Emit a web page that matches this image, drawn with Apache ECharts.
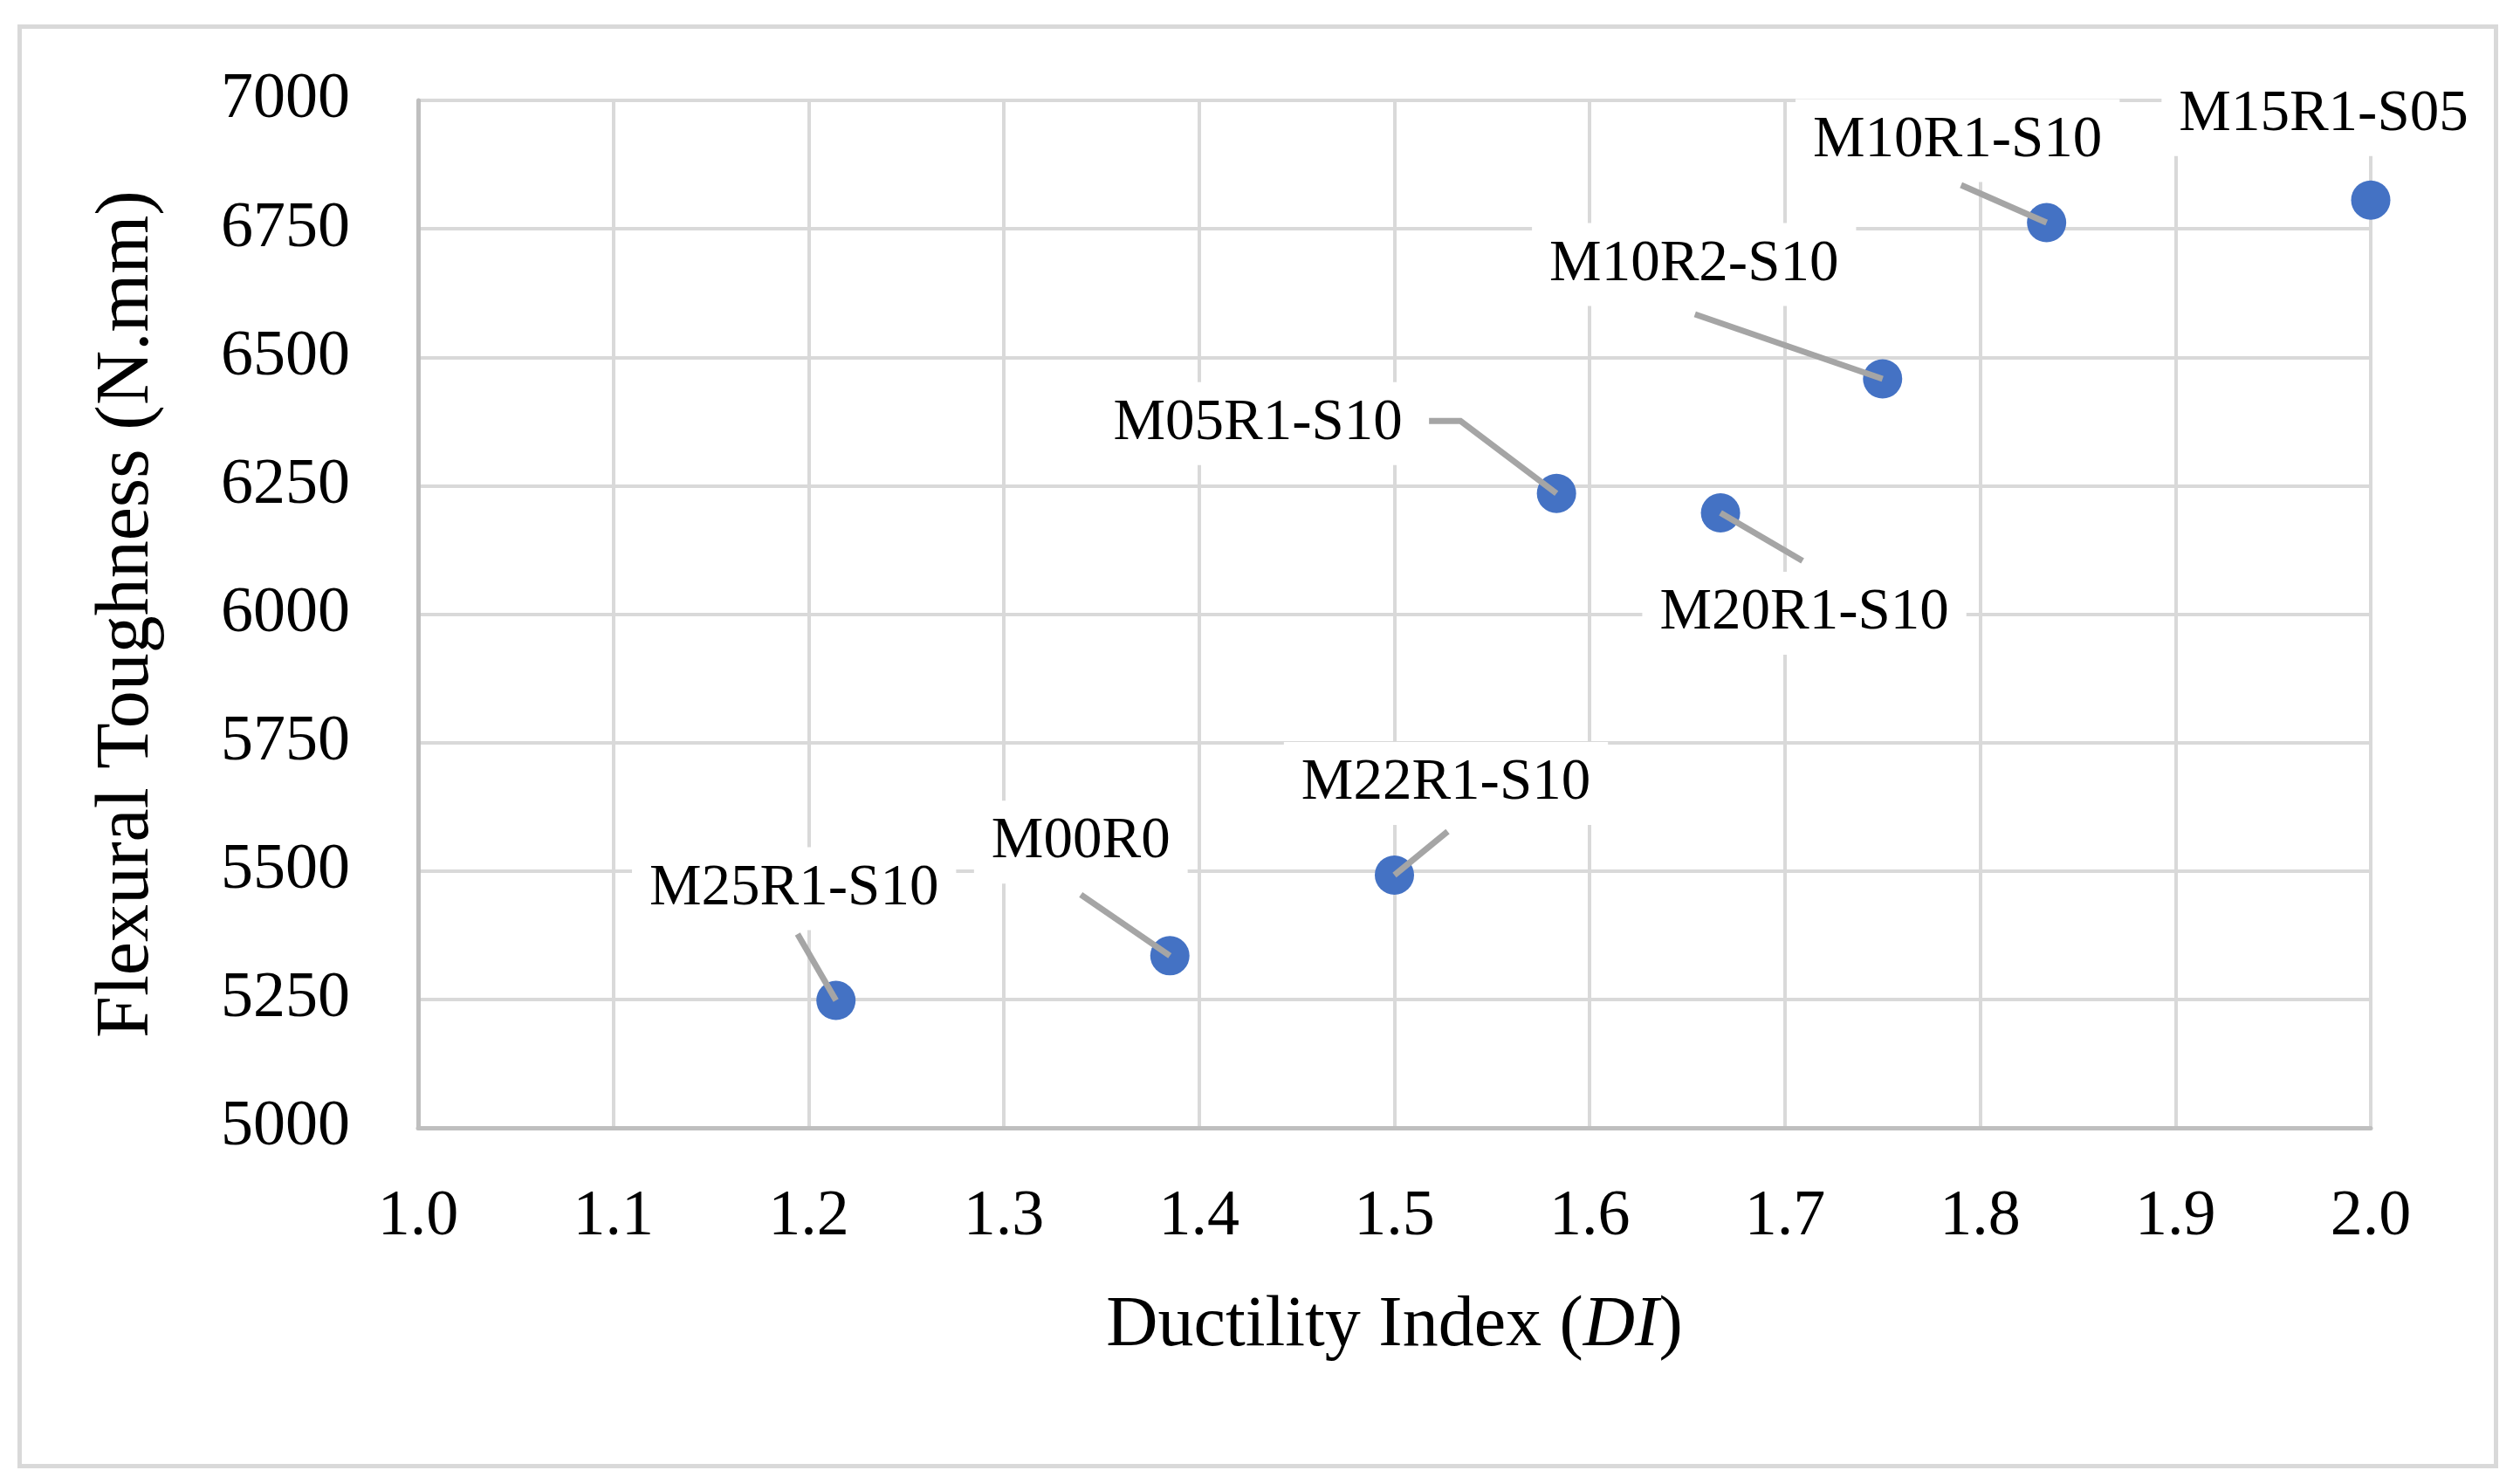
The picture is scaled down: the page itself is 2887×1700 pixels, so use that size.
<!DOCTYPE html>
<html>
<head>
<meta charset="utf-8">
<script src="https://cdn.jsdelivr.net/npm/echarts@6/dist/echarts.min.js"></script>
<style>
html,body{margin:0;padding:0;background:#fff;}
#chart{width:2887px;height:1700px;}
</style>
</head>
<body>
<div id="chart"></div>
<script>
// ---- data ----
const specimens = ['M25R1-S10','M00R0','M22R1-S10','M05R1-S10','M20R1-S10','M10R2-S10','M10R1-S10','M15R1-S05'];
const ductilityIndex = [1.214, 1.385, 1.500, 1.583, 1.667, 1.750, 1.834, 2.000];
const flexuralToughness = [5248, 5335, 5492, 6235, 6197, 6458, 6762, 6806];
const xTickLabels = ['1.0','1.1','1.2','1.3','1.4','1.5','1.6','1.7','1.8','1.9','2.0'];
const yTickLabels = ['5000','5250','5500','5750','6000','6250','6500','6750','7000'];

// ---- label layout (pixel offsets of label centre from point) ----
const labelOffsets = [
  [-48,-128], [-102,-130], [59,-105], [-342,-80],
  [96,115], [-216,-131], [-102,-94], [-54,-98]
];
// ---- leader line vertices, pixel offsets from point (empty = no leader) ----
const leaderOffsets = [
  [[-44,-76]],
  [[-102,-70]],
  [[61,-50]],
  [[-110,-83],[-146,-83]],
  [[94,55]],
  [[-215,-74]],
  [[-98,-43]],
  []
];

const FONT = '"Liberation Serif", "Times New Roman", serif';
const chart = echarts.init(document.getElementById('chart'));

const points = specimens.map((n, i) => ({ name: n, value: [ductilityIndex[i], flexuralToughness[i]] }));

chart.setOption({
  backgroundColor: '#fff',
  animation: false,
  grid: { left: 479, right: 171, top: 115, bottom: 408, containLabel: false },
  xAxis: {
    type: 'value', min: 1.0, max: 2.0, interval: 0.1,
    name: 'Ductility Index ({i|DI})',
    nameLocation: 'middle', nameGap: 186,
    nameTextStyle: {
      fontFamily: FONT, fontSize: 82, color: '#000',
      rich: { i: { fontFamily: FONT, fontSize: 82, fontStyle: 'italic', color: '#000' } }
    },
    axisLine: { show: true, lineStyle: { color: '#bfbfbf', width: 5 } },
    axisTick: { show: false },
    axisLabel: {
      fontFamily: FONT, fontSize: 74, color: '#000', margin: 66,
      formatter: v => xTickLabels[Math.round((v - 1.0) * 10)] ?? v.toFixed(1)
    },
    splitLine: { show: true, lineStyle: { color: '#d9d9d9', width: 4 } }
  },
  yAxis: {
    type: 'value', min: 5000, max: 7000, interval: 250,
    name: 'Flexural Toughness (N.mm)',
    nameLocation: 'middle', nameGap: 290, nameRotate: 90,
    nameTextStyle: { fontFamily: FONT, fontSize: 86, color: '#000' },
    axisLine: { show: true, lineStyle: { color: '#bfbfbf', width: 5 } },
    axisTick: { show: false },
    axisLabel: {
      fontFamily: FONT, fontSize: 74, color: '#000', margin: 78,
      formatter: v => yTickLabels[Math.round((v - 5000) / 250)] ?? String(v)
    },
    splitLine: { show: true, lineStyle: { color: '#d9d9d9', width: 4 } }
  },
  series: [{
    type: 'scatter',
    symbol: 'circle',
    symbolSize: 45,
    itemStyle: { color: '#4472C4', opacity: 1 },
    data: points,
    label: {
      show: true, position: 'inside',
      formatter: p => p.name,
      fontFamily: FONT, fontSize: 67, color: '#000',
      backgroundColor: '#fff', padding: [14, 20]
    },
    labelLine: { show: false },
    labelLayout: p => {
      const o = labelOffsets[p.dataIndex];
      return { dx: o[0], dy: o[1] };
    },
    emphasis: { disabled: true },
    z: 3
  }, {
    type: 'custom',
    silent: true,
    data: points,
    z: 4,
    renderItem: (params, api) => {
      const c = api.coord([api.value(0), api.value(1)]);
      const offs = leaderOffsets[params.dataIndex];
      if (!offs.length) return null;
      const pts = [c].concat(offs.map(o => [c[0] + o[0], c[1] + o[1]]));
      return {
        type: 'polyline',
        shape: { points: pts },
        style: { stroke: '#a5a5a5', lineWidth: 7, fill: null, lineCap: 'butt', lineJoin: 'miter' }
      };
    }
  }],
  graphic: [{
    type: 'rect', left: 20, top: 28, silent: true,
    shape: { width: 2837, height: 1649 },
    style: { fill: 'none', stroke: '#d9d9d9', lineWidth: 5 }
  }]
});
</script>
</body>
</html>
